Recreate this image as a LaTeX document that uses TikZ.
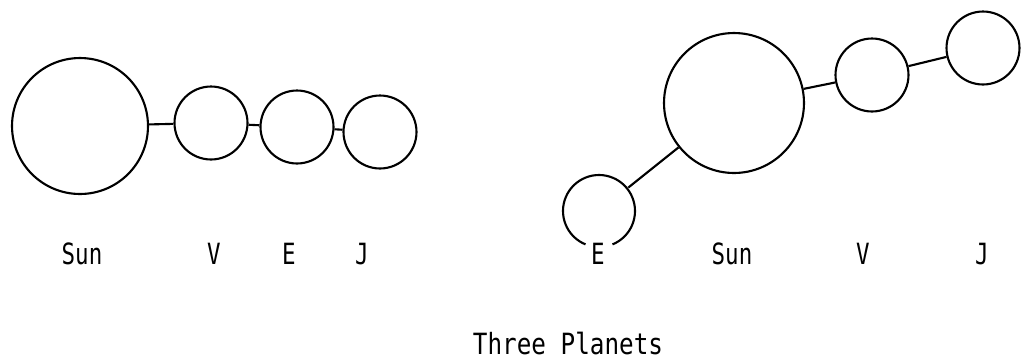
\documentclass[tikz,border=0pt]{standalone}
\usepackage{fontspec}
\newfontfamily\planetfont{DejaVu Sans Mono}
\newcommand\tall[1]{\scalebox{1}[1.3]{#1}}
\begin{document}
\begin{tikzpicture}[x=0.02cm, y=0.02cm, line width=1.2pt,
    body/.style={circle, draw, inner sep=0pt},
    bigbody/.style={body, minimum size=2.72cm},
    smallbody/.style={body, minimum size=1.46cm},
    tag/.style={anchor=base, inner sep=0pt, font=\planetfont\fontsize{12.8}{14}\selectfont}]
    \useasboundingbox (0,0) rectangle (1021,360);
    % planets in a row
    \node[bigbody] (sunL) at (80,234) {};
    \node[smallbody] (vL) at (211,237) {};
    \node[smallbody] (eL) at (297,233) {};
    \node[smallbody] (jL) at (380,228) {};
    \draw (sunL) -- (vL);
    \draw (vL) -- (eL);
    \draw (eL) -- (jL);
    \node[tag] (sunLt) at (82,96) {\tall{Sun}};
    \node[tag] (vLt) at (214,96) {\tall{V}};
    \node[tag] (eLt) at (289,96) {\tall{E}};
    \node[tag] (jLt) at (362,96) {\tall{J}};
    % earth on the other side
    \node[bigbody, minimum size=2.8cm] (sunR) at (734,257) {};
    \node[smallbody] (vR) at (872,285) {};
    \node[smallbody] (jR) at (983,312) {};
    \node[smallbody, draw=none] (eR) at (599,149) {};
    \draw (eR.center) ++(-68:36) arc[start angle=-68, end angle=248, radius=36];
    \draw (sunR) -- (vR);
    \draw (vR) -- (jR);
    \draw (sunR) -- (eR);
    \node[tag] (eRt) at (598,96) {\tall{E}};
    \node[tag] (sunRt) at (732,96) {\tall{Sun}};
    \node[tag] (vRt) at (863,96) {\tall{V}};
    \node[tag] (jRt) at (982,96) {\tall{J}};
    \node[tag] (title) at (568,6) {\scalebox{1.08}[1.3]{Three Planets}};
\end{tikzpicture}
\end{document}
